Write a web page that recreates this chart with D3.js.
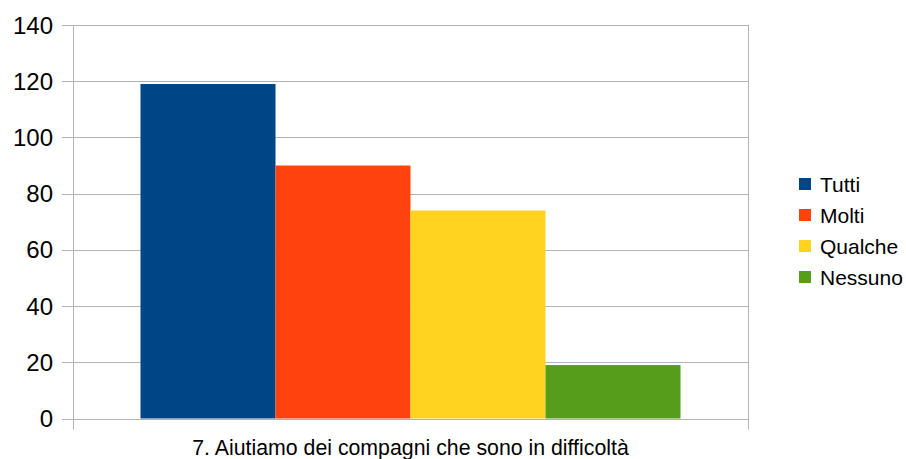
<!DOCTYPE html>
<html><head><meta charset="utf-8">
<script src="https://cdn.jsdelivr.net/npm/d3@7"></script>
<style>body{margin:0;background:#fff}svg{display:block}text{font-family:"Liberation Sans",Arial,sans-serif;fill:#000}</style>
</head><body>
<svg id="c" width="906" height="459"></svg>
<script>
const category = "7. Aiutiamo dei compagni che sono in difficoltà";
const seriesNames = ["Tutti", "Molti", "Qualche", "Nessuno"];
const seriesValues = [119, 90, 74, 19];
const seriesColors = ["#004586", "#ff420e", "#ffd320", "#579d1c"];
const yTicks = [0, 20, 40, 60, 80, 100, 120, 140];

const svg = d3.select("#c");
const L = 73, R = 748, T = 25, B = 418.5;
const y = d3.scaleLinear().domain([0, 140]).range([B, T]);
const x0 = d3.scaleBand().domain([category]).range([L, R]).paddingInner(0).paddingOuter(0);
const x1 = d3.scaleBand().domain(seriesNames).range([L + 67.5, R - 67.5]).padding(0);
const grid = "#b3b3b3";

// gridlines
svg.append("g").selectAll("line").data(yTicks).join("line")
  .attr("x1", L - 11).attr("x2", R).attr("y1", d => Math.round(y(d)) + 0.5).attr("y2", d => Math.round(y(d)) + 0.5)
  .attr("stroke", grid).attr("stroke-width", 1);

// vertical borders
[L, R].forEach(xx => svg.append("line").attr("x1", xx + 0.5).attr("x2", xx + 0.5)
  .attr("y1", T).attr("y2", B + 11).attr("stroke", grid));

// bars
svg.append("g").selectAll("rect").data(seriesNames).join("rect")
  .attr("x", d => x1(d)).attr("width", x1.bandwidth())
  .attr("y", (d, i) => y(seriesValues[i])).attr("height", (d, i) => B - y(seriesValues[i]))
  .attr("fill", (d, i) => seriesColors[i]);

// y labels
svg.append("g").selectAll("text").data(yTicks).join("text")
  .attr("x", 53).attr("y", d => y(d)).attr("dy", "0.36em")
  .attr("text-anchor", "end").attr("font-size", 24).text(d => d);

// x label
svg.append("text").attr("x", x0(category) + x0.bandwidth() / 2).attr("y", 455)
  .attr("text-anchor", "middle").attr("font-size", 21.3).text(category);

// legend
const lg = svg.append("g").selectAll("g").data(seriesNames).join("g")
  .attr("transform", (d, i) => `translate(799,${184 + i * 31})`);
lg.append("rect").attr("x", 0).attr("y", -6).attr("width", 12).attr("height", 12)
  .attr("fill", (d, i) => seriesColors[i]);
lg.append("text").attr("x", 21).attr("y", 0).attr("dy", "0.36em").attr("font-size", 21).text(d => d);
</script>
</body></html>
